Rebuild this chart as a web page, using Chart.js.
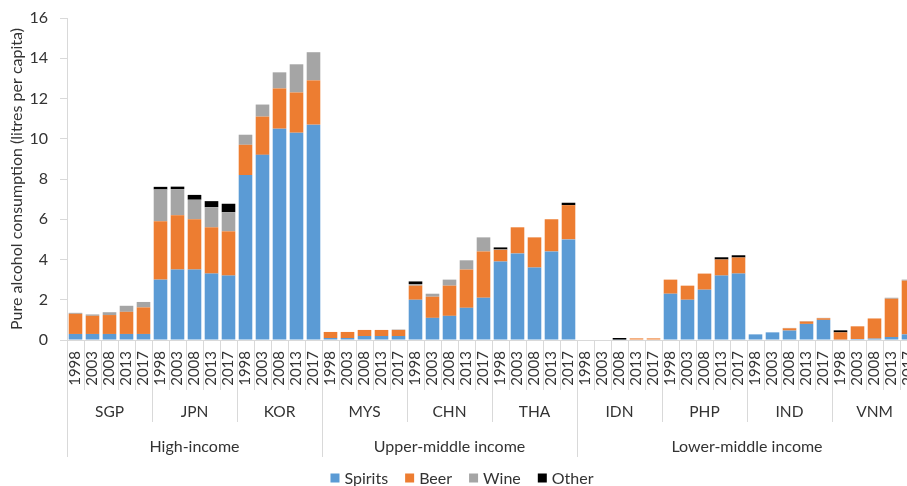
<!DOCTYPE html>
<html>
<head>
<meta charset="utf-8">
<script src="https://cdn.jsdelivr.net/npm/chart.js@4.4.1/dist/chart.umd.min.js"></script>
<style>
html,body{margin:0;padding:0;background:#fff;overflow:hidden;}
#wrap{width:920px;height:486px;}
</style>
</head>
<body>
<div id="wrap"><canvas id="c" width="920" height="486"></canvas></div>
<script>
// ---- data ----
const years = ["1998","2003","2008","2013","2017"];
const countries = ["SGP","JPN","KOR","MYS","CHN","THA","IDN","PHP","IND","VNM"];
const incomeGroups = ["High-income","Upper-middle income","Lower-middle income"];
const countriesPerGroup = [3,3,4];
const seriesNames = ["Spirits","Beer","Wine","Other"];
const seriesColors = ["#5b9bd5","#ed7d31","#a5a5a5","#000000"];

const spirits = [
  0.3,0.3,0.3,0.3,0.3,        // SGP
  3.0,3.5,3.5,3.3,3.2,        // JPN
  8.2,9.2,10.5,10.3,10.7,     // KOR
  0.1,0.1,0.2,0.2,0.2,        // MYS
  2.0,1.1,1.2,1.6,2.1,        // CHN
  3.9,4.3,3.6,4.4,5.0,        // THA
  0,0,0.02,0,0,               // IDN
  2.3,2.0,2.5,3.2,3.3,        // PHP
  0.28,0.38,0.47,0.8,1.0,     // IND
  0.02,0.05,0.07,0.15,0.28    // VNM
];
const beer = [
  1.0,0.9,0.94,1.1,1.32,
  2.9,2.7,2.5,2.3,2.2,
  1.5,1.9,2.0,2.0,2.2,
  0.3,0.3,0.3,0.3,0.3,
  0.7,1.05,1.5,1.9,2.3,
  0.58,1.3,1.5,1.6,1.7,
  0,0,0,0.08,0.08,
  0.7,0.7,0.8,0.8,0.8,
  0,0,0.11,0.12,0.08,
  0.36,0.63,1.0,1.9,2.67
];
const wine = [
  0.05,0.07,0.14,0.3,0.27,
  1.58,1.3,0.97,1.0,0.95,
  0.5,0.6,0.8,1.4,1.4,
  0,0,0,0,0.02,
  0.08,0.15,0.3,0.46,0.7,
  0.02,0,0,0,0,
  0,0,0,0,0,
  0,0,0,0,0,
  0,0,0.02,0.02,0.02,
  0,0,0,0.05,0.05
];
const other = [
  0,0,0,0,0,
  0.13,0.12,0.24,0.3,0.42,
  0,0,0,0,0,
  0,0,0,0,0,
  0.13,0,0,0,0,
  0.1,0,0,0,0.12,
  0,0,0.08,0,0,
  0,0,0,0.11,0.11,
  0,0,0,0,0,
  0.1,0,0,0,0
];
const yTicks = {min:0, max:16, step:2};
const yTitle = "Pure alcohol consumption (litres per capita)";

// ---- labels ----
const labels = [];
countries.forEach(c => years.forEach(y => labels.push(c + " " + y)));
const seriesData = [spirits, beer, wine, other];

const FONT = "Lato, 'Open Sans', 'DejaVu Sans', sans-serif";
const TXT = "#333333";
const AXIS = "#d9d9d9";

const multiAxis = {
  id: 'multiAxis',
  afterDraw(chart) {
    const ctx = chart.ctx;
    const xs = chart.scales.x;
    const base = chart.chartArea.bottom;
    const n = labels.length;
    const px = i => xs.getPixelForValue(i);
    const half = (px(1) - px(0)) / 2;
    const edge = i => (i === 0 ? px(0) - half : (i === n ? px(n - 1) + half : (px(i - 1) + px(i)) / 2));
    ctx.save();
    ctx.strokeStyle = AXIS;
    ctx.lineWidth = 1;
    // separators
    for (let i = 0; i <= n; i++) {
      let len = 50;
      if (i % years.length === 0) len = 82;
      let idx = i / years.length, acc = 0;
      if (i % years.length === 0) {
        for (let g = 0; g <= countriesPerGroup.length; g++) {
          if (idx === acc) { len = 117; break; }
          if (g < countriesPerGroup.length) acc += countriesPerGroup[g];
        }
      }
      const x = Math.round(edge(i)) + 0.5;
      ctx.beginPath();
      ctx.moveTo(x, base);
      ctx.lineTo(x, base + len);
      ctx.stroke();
    }
    // year labels
    ctx.fillStyle = TXT;
    ctx.font = "15px " + FONT;
    ctx.textAlign = "right";
    ctx.textBaseline = "middle";
    for (let i = 0; i < n; i++) {
      ctx.save();
      ctx.translate(px(i), base + 11);
      ctx.rotate(-Math.PI / 2);
      ctx.fillText(years[i % years.length], 0, 0);
      ctx.restore();
    }
    // country labels
    ctx.textAlign = "center";
    ctx.font = "15.5px " + FONT;
    countries.forEach((c, k) => {
      const a = edge(k * years.length), b = edge((k + 1) * years.length);
      ctx.fillText(c, (a + b) / 2, base + 72);
    });
    // income group labels
    ctx.font = "16px " + FONT;
    let start = 0;
    incomeGroups.forEach((g, k) => {
      const a = edge(start * years.length), b = edge((start + countriesPerGroup[k]) * years.length);
      ctx.fillText(g, (a + b) / 2, base + 107);
      start += countriesPerGroup[k];
    });
    // legend
    ctx.font = "16px " + FONT;
    ctx.textAlign = "left";
    const box = 9, gapBoxText = 5, gapItems = 17;
    const widths = seriesNames.map(s => box + gapBoxText + ctx.measureText(s).width);
    const total = widths.reduce((a, b) => a + b, 0) + gapItems * (seriesNames.length - 1);
    let lx = 462 - total / 2;
    const ly = 478;
    seriesNames.forEach((s, k) => {
      ctx.fillStyle = seriesColors[k];
      ctx.fillRect(lx, ly - box / 2, box, box);
      ctx.fillStyle = TXT;
      ctx.fillText(s, lx + box + gapBoxText, ly + 1);
      lx += widths[k] + gapItems;
    });
    ctx.restore();
  }
};

new Chart(document.getElementById('c'), {
  type: 'bar',
  data: {
    labels: labels,
    datasets: seriesNames.map((s, k) => ({
      label: s,
      data: seriesData[k],
      backgroundColor: seriesColors[k],
      borderWidth: 0,
      barPercentage: 0.8,
      categoryPercentage: 1.0
    }))
  },
  options: {
    responsive: false,
    animation: false,
    layout: { padding: { top: 18, right: 3, left: 0, bottom: 0 } },
    plugins: { legend: { display: false }, tooltip: { enabled: false } },
    scales: {
      x: {
        stacked: true,
        grid: { display: false },
        border: { display: true, color: AXIS, width: 1 },
        ticks: { display: false },
        afterFit(scale) { scale.height = 146; scale.paddingLeft = 0; scale.paddingRight = 0; }
      },
      y: {
        stacked: true,
        min: yTicks.min,
        max: yTicks.max,
        ticks: { stepSize: yTicks.step, color: TXT, font: { size: 16, family: FONT }, padding: 12 },
        grid: { drawOnChartArea: false, drawTicks: true, tickLength: 7, color: AXIS },
        border: { display: true, color: AXIS, width: 1 },
        title: { display: true, text: yTitle, color: TXT, font: { size: 16, family: FONT }, padding: { top: 7, bottom: 0 } },
        afterFit(scale) { scale.width = 67; scale.paddingTop = 0; scale.paddingBottom = 0; }
      }
    }
  },
  plugins: [multiAxis]
});
</script>
</body>
</html>
